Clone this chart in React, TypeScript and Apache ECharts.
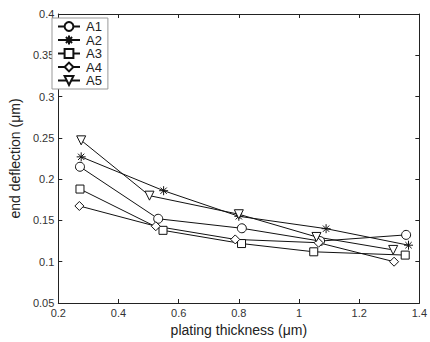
import React, { useEffect, useRef } from "react";
import * as echarts from "echarts";

const seriesNames = ["A1", "A2", "A3", "A4", "A5"];
const a1: [number, number][] = [[0.272, 0.215], [0.532, 0.152], [0.81, 0.1405], [1.07, 0.125], [1.356, 0.1325]];
const a2: [number, number][] = [[0.276, 0.227], [0.55, 0.186], [0.8, 0.155], [1.09, 0.14], [1.364, 0.12]];
const a3: [number, number][] = [[0.272, 0.188], [0.548, 0.138], [0.809, 0.122], [1.049, 0.112], [1.353, 0.108]];
const a4: [number, number][] = [[0.27, 0.1675], [0.524, 0.143], [0.788, 0.127], [1.065, 0.123], [1.316, 0.1]];
const a5: [number, number][] = [[0.276, 0.247], [0.503, 0.18], [0.8, 0.1575], [1.058, 0.13], [1.313, 0.1143]];
const seriesData = [a1, a2, a3, a4, a5];

const symbols = [
  "circle",
  "path://M5,0L5,10M0,5L10,5M1.5,1.5L8.5,8.5M1.5,8.5L8.5,1.5",
  "rect",
  "diamond",
  "path://M0,0L10,0L5,10Z",
];
const symbolSizes = [9, 9, 8, 9, 9];

export default function App() {
  const ref = useRef<HTMLDivElement>(null);
  useEffect(() => {
    const chart = echarts.init(ref.current!, null, { renderer: "svg" });
    const axisCommon = {
      axisLine: { show: true, lineStyle: { color: "#222", width: 1 } },
      axisTick: { show: true, inside: true, length: 4, lineStyle: { color: "#222" } },
      splitLine: { show: false },
    };
    chart.setOption({
      animation: false,
      backgroundColor: "#fff",
      textStyle: { fontFamily: "Liberation Sans, Arial, sans-serif" },
      grid: { left: 48, right: 7, top: 14, bottom: 34, containLabel: false },
      legend: {
        orient: "vertical",
        left: 52,
        top: 18,
        padding: [2, 6, 2, 5],
        itemGap: 0.5,
        itemWidth: 22,
        itemHeight: 11,
        borderColor: "#999",
        borderWidth: 1,
        backgroundColor: "#fff",
        textStyle: { fontSize: 13, lineHeight: 11, color: "#222", padding: [0, 0, 0, 1] },
        data: seriesNames,
      },
      xAxis: [
        {
          type: "value",
          min: 0.2,
          max: 1.4,
          interval: 0.2,
          name: "plating thickness (\u03bcm)",
          nameLocation: "middle",
          nameGap: 20,
          nameTextStyle: { fontSize: 14, color: "#222" },
          axisLabel: { fontSize: 11, color: "#333", margin: 4 },
          ...axisCommon,
        },
        {
          type: "value",
          position: "top",
          min: 0.2,
          max: 1.4,
          interval: 0.2,
          axisLabel: { show: false },
          ...axisCommon,
        },
      ],
      yAxis: [
        {
          type: "value",
          min: 0.05,
          max: 0.4,
          interval: 0.05,
          name: "end deflection (\u03bcm)",
          nameLocation: "middle",
          nameGap: 31,
          nameTextStyle: { fontSize: 14, color: "#222" },
          axisLabel: { fontSize: 11, color: "#333", margin: 4 },
          ...axisCommon,
        },
        {
          type: "value",
          position: "right",
          min: 0.05,
          max: 0.4,
          interval: 0.05,
          axisLabel: { show: false },
          ...axisCommon,
        },
      ],
      series: seriesNames.map((name, i) => ({
        name,
        type: "line",
        data: seriesData[i],
        symbol: symbols[i],
        symbolSize: symbolSizes[i],
        showAllSymbol: true,
        lineStyle: { color: "#111", width: 1 },
        itemStyle: { color: "#fff", borderColor: "#111", borderWidth: 1 },
        emphasis: { disabled: true },
      })),
    });
    return () => chart.dispose();
  }, []);
  return (
    <div
      ref={ref}
      style={{ position: "fixed", left: 0, top: 0, width: 430, height: 342 }}
    />
  );
}
